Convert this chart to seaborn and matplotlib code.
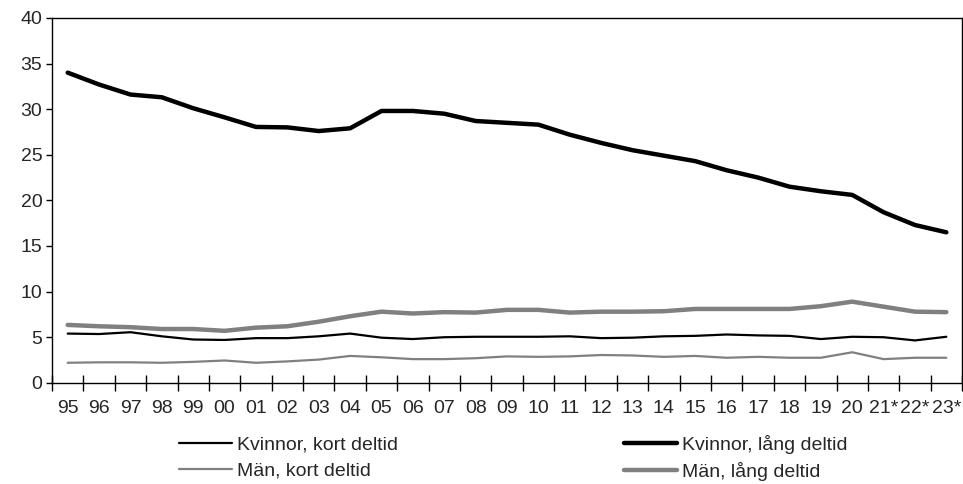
import numpy as np
import pandas as pd
import matplotlib
matplotlib.use('Agg')
import matplotlib.pyplot as plt
import seaborn as sns

SET_DPI = 100
FIGSIZE = (9.63, 4.84)

YEARS = ['95', '96', '97', '98', '99', '00', '01', '02', '03', '04', '05', '06',
         '07', '08', '09', '10', '11', '12', '13', '14', '15', '16', '17', '18',
         '19', '20', '21*', '22*', '23*']

KVINNOR_KORT = [5.4, 5.35, 5.55, 5.1, 4.75, 4.7, 4.9, 4.9, 5.1, 5.4, 4.95, 4.8,
                5.0, 5.05, 5.05, 5.05, 5.1, 4.9, 4.95, 5.1, 5.15, 5.3, 5.2, 5.15,
                4.8, 5.05, 5.0, 4.65, 5.05]
KVINNOR_LANG = [34.0, 32.7, 31.6, 31.3, 30.1, 29.1, 28.05, 28.0, 27.6, 27.9, 29.8, 29.8,
                29.5, 28.7, 28.5, 28.3, 27.2, 26.3, 25.5, 24.9, 24.3, 23.3, 22.5, 21.5,
                21.0, 20.6, 18.7, 17.3, 16.5]
MAN_KORT = [2.2, 2.25, 2.25, 2.2, 2.3, 2.45, 2.2, 2.35, 2.55, 2.95, 2.8, 2.6,
            2.6, 2.7, 2.9, 2.85, 2.9, 3.05, 3.0, 2.85, 2.95, 2.75, 2.85, 2.75,
            2.75, 3.35, 2.6, 2.75, 2.75]
MAN_LANG = [6.35, 6.2, 6.1, 5.9, 5.9, 5.7, 6.05, 6.2, 6.7, 7.3, 7.8, 7.6,
            7.75, 7.7, 8.0, 8.0, 7.7, 7.8, 7.8, 7.85, 8.1, 8.1, 8.1, 8.1,
            8.4, 8.9, 8.35, 7.8, 7.75]

SERIES = ['Kvinnor, kort deltid', 'Män, kort deltid',
          'Kvinnor, lång deltid', 'Män, lång deltid']
COLOURS = ['#000000', '#808080', '#000000', '#808080']
WIDTHS = [1.6, 1.6, 3.2, 3.2]

sns.set_style('white')
plt.rcParams['font.family'] = ['Liberation Sans', 'DejaVu Sans']

data = pd.DataFrame({'year': YEARS,
                     SERIES[0]: KVINNOR_KORT,
                     SERIES[1]: MAN_KORT,
                     SERIES[2]: KVINNOR_LANG,
                     SERIES[3]: MAN_LANG})
long_data = pd.melt(data, id_vars='year', var_name='serie', value_name='andel')
long_data['x'] = np.tile(np.arange(len(YEARS)), len(SERIES))

fig = plt.figure(figsize=FIGSIZE, dpi=SET_DPI)
ax = fig.add_axes([0.054, 0.209, 0.945, 0.754])

for name, col, lw in zip(SERIES, COLOURS, WIDTHS):
    sns.lineplot(x='x', y='andel', data=long_data[long_data['serie'] == name],
                 color=col, linewidth=lw, label=name, ax=ax,
                 solid_capstyle='round', solid_joinstyle='round')

ax.set_xlim(-0.5, len(YEARS) - 0.5)
ax.set_ylim(0, 40)
ax.set_yticks(range(0, 41, 5))
ax.set_xticks(np.arange(len(YEARS)))
ax.set_xticklabels(YEARS)
ax.set_xticks(np.arange(len(YEARS) + 1) - 0.5, minor=True)
ax.set_xlabel('')
ax.set_ylabel('')
ax.tick_params(axis='x', which='major', length=0, pad=12, labelsize=14)
ax.tick_params(axis='x', which='minor', bottom=True, direction='inout',
               length=12, width=1, color='black')
ax.tick_params(axis='y', direction='out', length=4, width=1, color='black',
               pad=3, labelsize=14, left=True)
for sp in ax.spines.values():
    sp.set_visible(True)
    sp.set_color('black')
    sp.set_linewidth(1)

handles, labels = ax.get_legend_handles_labels()
ax.legend_.remove()
fig.legend(handles, labels, ncol=2, loc='upper left',
           bbox_to_anchor=(0.186, 0.102), frameon=False,
           fontsize=14, handlelength=2.7, handletextpad=0.3,
           columnspacing=11.6, labelspacing=0.42, borderaxespad=0, borderpad=0)

plt.savefig('out.png', dpi=SET_DPI)
plt.close('all')
